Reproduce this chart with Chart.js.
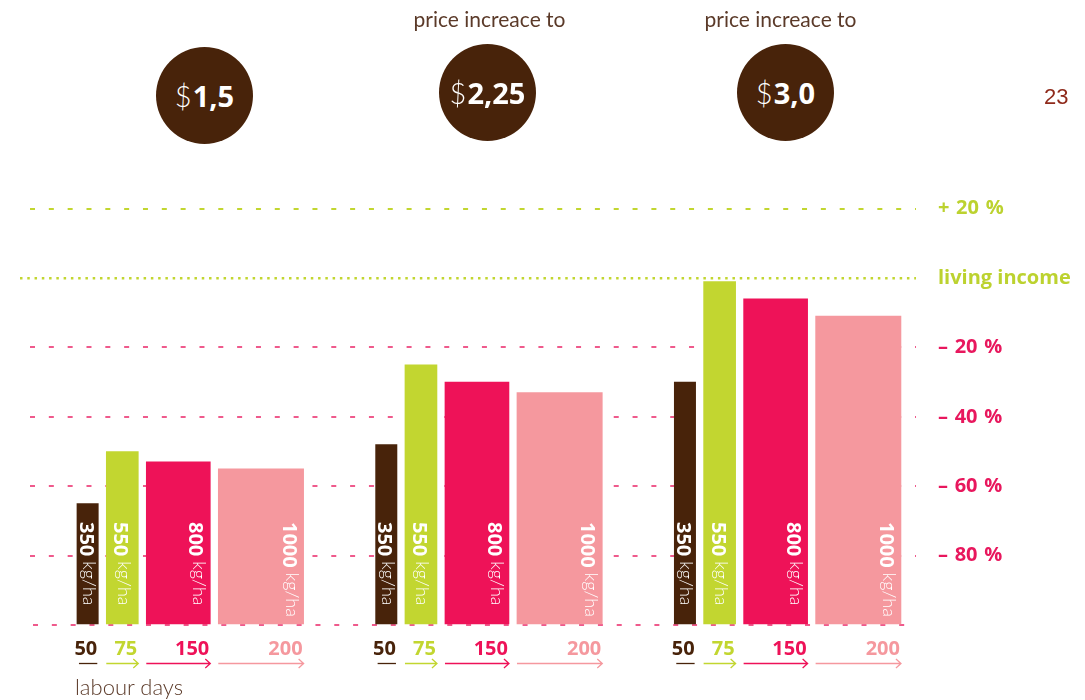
<!DOCTYPE html>
<html>
<head>
<meta charset="utf-8">
<script src="https://cdn.jsdelivr.net/npm/chart.js@4.4.1/dist/chart.umd.min.js"></script>
<style>
  html, body { margin: 0; padding: 0; background: #fff; }
  #wrap { position: relative; width: 1085px; height: 700px; overflow: hidden; }
  #chart { position: absolute; left: 0; top: 0; }
  .circle { position: absolute; width: 97px; height: 97px; border-radius: 50%; background: #48230a;
            color: #fff; display: flex; align-items: center; justify-content: center;
            font-family: "Open Sans", Lato, sans-serif; font-size: 29px; line-height: 1; }
  .circle .d { font-family: Lato, sans-serif; font-weight: 300; margin-right: 1px; }
  .circle b { font-weight: 700; }
  .caption { position: absolute; width: 220px; text-align: center; font-family: Lato, sans-serif;
             font-weight: 400; font-size: 21px; line-height: 21px; color: #5b3a29; white-space: nowrap; }
  #page { position: absolute; left: 1044px; top: 86px; font-family: "Liberation Sans", Arial, sans-serif;
          font-size: 22px; line-height: 22px; color: #8f2a1b; }
  #days { position: absolute; left: 75px; top: 676px; font-family: Lato, sans-serif; font-weight: 300;
          font-size: 22px; line-height: 22px; color: #5b3a29; white-space: nowrap; }
</style>
</head>
<body>
<div id="wrap">
  <canvas id="chart" width="1085" height="700"></canvas>
  <div id="page">23</div>
  <div id="days">labour days</div>
</div>
<script>
// ---------- data ----------
const prices = ['1,5', '2,25', '3,0'];
const priceCaptions = ['', 'price increace to', 'price increace to'];
const yieldLabels = ['350', '550', '800', '1000'];
const labourDays = [50, 75, 150, 200];
// income as % of living income (100 = living income)
const income350 = [35, 52, 70];
const income550 = [50, 75, 99];
const income800 = [47, 70, 94];
const income1000 = [45, 67, 89];
const yTicks = [0, 20, 40, 60, 80, 100, 120];
const yTickLabels = ['', '–\u200480\u2004%', '–\u200460\u2004%', '–\u200440\u2004%', '–\u200420\u2004%', 'living income', '+\u200420\u2004%'];

// ---------- styles / layout ----------
const colors = ['#48230a', '#c2d630', '#ee1258', '#f5989e'];
const labelColors = ['#48230a', '#c2d630', '#ee1258', '#f5989e'];
const X_MAX = 2100;                 // x axis in labour-day units
const AREA_LEFT = 20, AREA_RIGHT = 916;
const PX_PER_DAY = (AREA_RIGHT - AREA_LEFT) / X_MAX;
const GROUP_START = 133.5, GROUP_STEP = 700, BAR_GAP = 18.75;
const circleCenters = [[204.5, 95.5], [487.5, 92.5], [785.5, 92.5]];
const captionCenters = [0, 489.5, 780.5];

const series = [income350, income550, income800, income1000];

function barCenter(g, i) {
  let start = GROUP_START + g * GROUP_STEP;
  for (let k = 0; k < i; k++) start += labourDays[k] + BAR_GAP;
  return start + labourDays[i] / 2;
}

const datasets = series.map((vals, i) => ({
  label: yieldLabels[i] + ' kg/ha',
  data: vals.map((v, g) => ({ x: barCenter(g, i), y: v })),
  backgroundColor: colors[i],
  borderWidth: 0,
  barThickness: labourDays[i] * PX_PER_DAY,
  grouped: false
}));

// ---------- overlays (circles, captions) ----------
const wrap = document.getElementById('wrap');
prices.forEach((p, i) => {
  const c = document.createElement('div');
  c.className = 'circle';
  c.style.left = (circleCenters[i][0] - 48.5) + 'px';
  c.style.top = (circleCenters[i][1] - 48.5) + 'px';
  c.innerHTML = '<span class="d">$</span><b>' + p + '</b>';
  wrap.appendChild(c);
  if (priceCaptions[i]) {
    const t = document.createElement('div');
    t.className = 'caption';
    t.textContent = priceCaptions[i];
    t.style.left = (captionCenters[i] - 110) + 'px';
    t.style.top = '8px';
    wrap.appendChild(t);
  }
});

// ---------- plugin: labels in bars + labour days ----------
const annotate = {
  id: 'annotate',
  afterDatasetsDraw(chart) {
    const ctx = chart.ctx;
    const base = chart.scales.y.getPixelForValue(0);
    chart.data.datasets.forEach((ds, di) => {
      const meta = chart.getDatasetMeta(di);
      meta.data.forEach((bar) => {
        const { x, width } = bar.getProps(['x', 'width'], true);
        const left = x - width / 2, right = x + width / 2;
        // rotated yield label
        const cx = width < 40 ? x - 1 : right - 14;
        ctx.save();
        ctx.translate(cx, base - 103);
        ctx.rotate(Math.PI / 2);
        ctx.fillStyle = '#ffffff';
        ctx.textAlign = 'left';
        ctx.textBaseline = 'alphabetic';
        ctx.font = 'bold 20px "Open Sans"';
        ctx.fillText(yieldLabels[di], 0, 7);
        const w = ctx.measureText(yieldLabels[di]).width;
        ctx.font = '300 18px Lato';
        ctx.fillText('kg/ha', w + 5, 3.5);
        ctx.restore();

        // labour days number
        ctx.save();
        ctx.fillStyle = labelColors[di];
        ctx.font = 'bold 20px "Open Sans"';
        ctx.textAlign = 'right';
        ctx.textBaseline = 'alphabetic';
        ctx.fillText(String(labourDays[di]), right - 1, base + 30);
        // arrow
        const ay = base + 38.5;
        ctx.strokeStyle = labelColors[di];
        ctx.lineWidth = 1.3;
        ctx.beginPath();
        if (di === 0) {
          ctx.moveTo(left + 2, ay);
          ctx.lineTo(right - 1, ay);
        } else {
          ctx.moveTo(left, ay);
          ctx.lineTo(right, ay);
          ctx.moveTo(right - 5, ay - 4.5);
          ctx.lineTo(right, ay);
          ctx.lineTo(right - 5, ay + 4.5);
        }
        ctx.stroke();
        ctx.restore();
      });
    });
  }
};

new Chart(document.getElementById('chart'), {
  type: 'bar',
  data: { datasets },
  plugins: [annotate],
  options: {
    responsive: false,
    animation: false,
    devicePixelRatio: 1,
    layout: { padding: { top: 208.6, bottom: 75, left: AREA_LEFT, right: 0 } },
    plugins: { legend: { display: false }, tooltip: { enabled: false } },
    scales: {
      x: { type: 'linear', min: 0, max: X_MAX, display: false, offset: false },
      y: {
        position: 'right',
        min: 0, max: 120,
        afterBuildTicks: (s) => { s.ticks = yTicks.map(v => ({ value: v })); },
        afterFit: (s) => { s.width = 1085 - AREA_RIGHT; },
        grid: {
          drawTicks: false,
          color: (c) => (c.tick && c.tick.value >= 100) ? '#c2d630' : '#ef5a8c',
          lineWidth: (c) => (c.tick && c.tick.value === 100) ? 2.5 : 2
        },
        border: {
          display: false,
          dash: (c) => {
            if (!c.tick) return [];
            return c.tick.value === 100 ? [2.5, 4.77] : [5, 13.83];
          },
          dashOffset: (c) => {
            if (!c.tick) return 0;
            if (c.tick.value === 100) return 0;
            if (c.tick.value === 0) return 5.83;
            return 8.83;
          }
        },
        ticks: {
          padding: 22,
          autoSkip: false,
          callback: (v) => yTickLabels[yTicks.indexOf(v)],
          color: (c) => (c.tick && c.tick.value >= 100) ? '#bcd22f' : '#e8175d',
          font: { family: '"Open Sans"', size: 20, weight: 'bold' }
        }
      }
    }
  }
});
</script>
</body>
</html>
